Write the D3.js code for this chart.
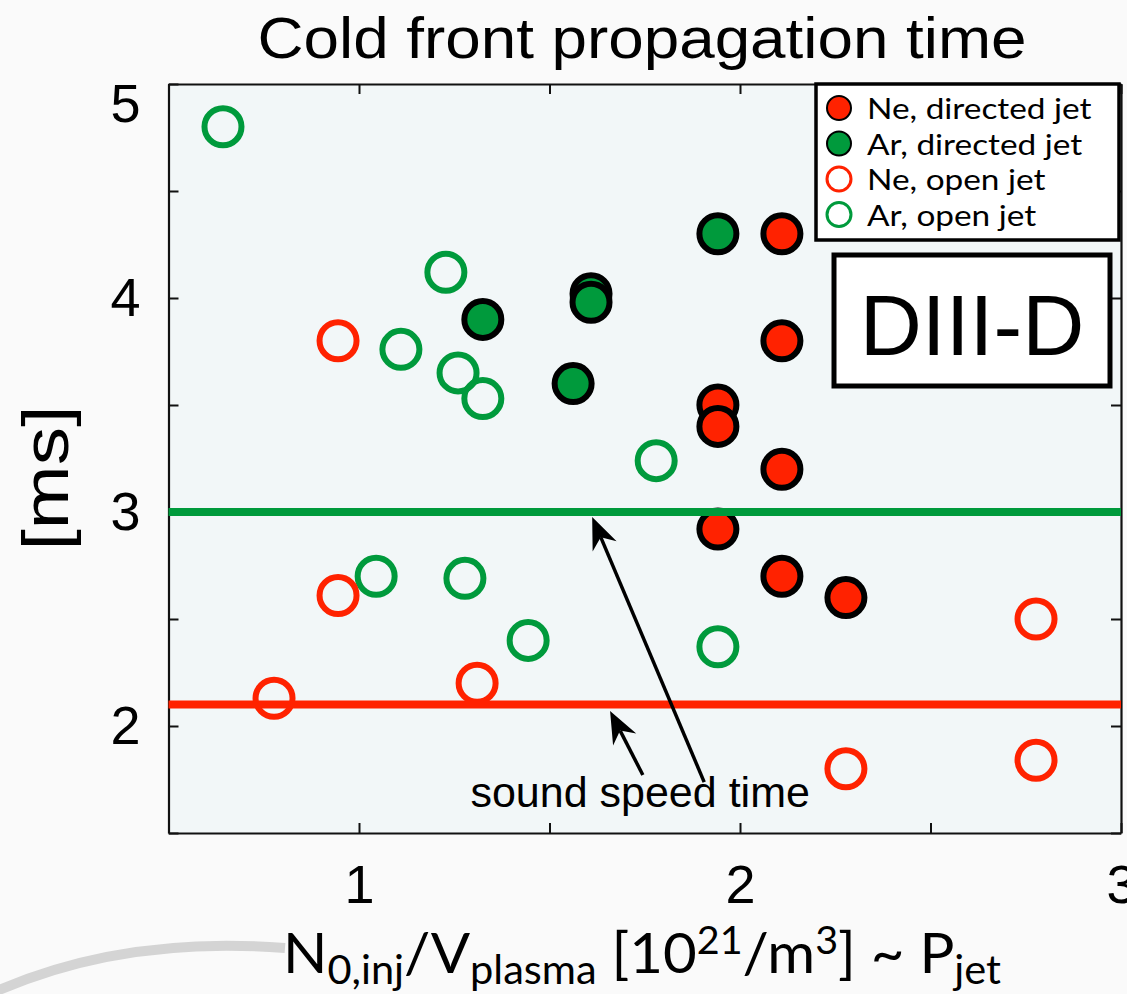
<!DOCTYPE html>
<html>
<head>
<meta charset="utf-8">
<script src="https://cdn.jsdelivr.net/npm/d3@7"></script>
<style>
  body { margin: 0; background: #fafafa; }
  #chart text { fill: #000; }
</style>
</head>
<body>
<div id="chart"></div>
<script>
// data: x = N0,inj/Vplasma, y = time [ms]
var neDirectedX = [2.11, 2.11, 1.942, 1.942, 2.11, 1.942, 2.11, 2.278];
var neDirectedY = [4.30, 3.80, 3.50, 3.40, 3.20, 2.92, 2.70, 2.60];

var arDirectedX = [1.325, 1.609, 1.609, 1.562, 1.942];
var arDirectedY = [3.90, 4.02, 3.98, 3.60, 4.30];

var neOpenX = [0.945, 0.945, 0.777, 1.31, 2.278, 2.777, 2.777];
var neOpenY = [3.80, 2.61, 2.13, 2.20, 1.80, 2.50, 1.84];

var arOpenX = [0.643, 1.228, 1.11, 1.26, 1.325, 1.78, 1.045, 1.278, 1.444, 1.942];
var arOpenY = [4.80, 4.12, 3.76, 3.65, 3.53, 3.24, 2.70, 2.69, 2.40, 2.37];

// sound speed times
var arSoundSpeed = 3.0;
var neSoundSpeed = 2.1;

var xTicks = [0.5, 1, 1.5, 2, 2.5, 3];
var yTicks = [1.5, 2, 2.5, 3, 3.5, 4, 4.5, 5];

var legendLabels = ["Ne, directed jet", "Ar, directed jet", "Ne, open jet", "Ar, open jet"];

// arrows: [tipX, tipY, tailX, tailY] in data units
var arrowGreen = [1.612, 2.977, 1.906, 1.738];
var arrowRed = [1.659, 2.07, 1.745, 1.771];
var noteX = 1.738, noteY = 1.62;

var RED = "#ff2200", GREEN = "#009a3c";

var W = 1127, H = 994;
var box = { left: 168.5, right: 1121, top: 84, bottom: 833 };

var svg = d3.select("#chart").append("svg")
  .attr("width", W).attr("height", H)
  .style("font-family", "'Liberation Sans', Arial, sans-serif");

svg.append("rect").attr("width", W).attr("height", H).attr("fill", "#fafafa");

var x = d3.scaleLinear().domain([0.5, 3]).range([box.left, box.right]);
var y = d3.scaleLinear().domain([1.5, 5]).range([box.bottom, box.top]);

// plot background
svg.append("rect")
  .attr("x", box.left).attr("y", box.top)
  .attr("width", box.right - box.left).attr("height", box.bottom - box.top)
  .attr("fill", "#f2f7f8");

function intLabel(d) { return d % 1 === 0 ? d3.format("d")(d) : ""; }

var xAxis = svg.append("g")
  .attr("transform", "translate(0," + box.bottom + ")")
  .call(d3.axisBottom(x).tickValues(xTicks).tickSize(-10).tickSizeOuter(0)
    .tickPadding(32).tickFormat(intLabel));

var yAxis = svg.append("g")
  .attr("transform", "translate(" + box.left + ",0)")
  .call(d3.axisLeft(y).tickValues(yTicks).tickSize(-10).tickSizeOuter(0)
    .tickPadding(28).tickFormat(intLabel));

svg.append("g")
  .attr("transform", "translate(0," + box.top + ")")
  .call(d3.axisTop(x).tickValues(xTicks).tickSize(-10).tickSizeOuter(0).tickFormat(""));

svg.append("g")
  .attr("transform", "translate(" + box.right + ",0)")
  .call(d3.axisRight(y).tickValues(yTicks).tickSize(-10).tickSizeOuter(0).tickFormat(""));

svg.selectAll(".domain").attr("stroke", "#111").attr("stroke-width", 2.2);
svg.selectAll(".tick line").attr("stroke", "#111").attr("stroke-width", 2);
svg.selectAll(".tick text")
  .attr("font-family", "'Liberation Sans', Arial, sans-serif")
  .attr("font-size", 54)
  .attr("fill", "#000");
// the top label sits a bit lower in the original
yAxis.selectAll(".tick text").filter(function (d) { return d === 5; }).attr("dy", "0.7em");

// points
function pairs(xs, ys) { return xs.map(function (v, i) { return [v, ys[i]]; }); }

svg.append("g").selectAll("circle")
  .data(pairs(arOpenX, arOpenY)).enter().append("circle")
  .attr("cx", function (d) { return x(d[0]); })
  .attr("cy", function (d) { return y(d[1]); })
  .attr("r", 18.5)
  .attr("fill", "none").attr("stroke", GREEN).attr("stroke-width", 6);

svg.append("g").selectAll("circle")
  .data(pairs(neOpenX, neOpenY)).enter().append("circle")
  .attr("cx", function (d) { return x(d[0]); })
  .attr("cy", function (d) { return y(d[1]); })
  .attr("r", 18.5)
  .attr("fill", "none").attr("stroke", RED).attr("stroke-width", 6);

svg.append("g").selectAll("circle")
  .data(pairs(arDirectedX, arDirectedY)).enter().append("circle")
  .attr("cx", function (d) { return x(d[0]); })
  .attr("cy", function (d) { return y(d[1]); })
  .attr("r", 18.5)
  .attr("fill", GREEN).attr("stroke", "#000").attr("stroke-width", 6);

svg.append("g").selectAll("circle")
  .data(pairs(neDirectedX, neDirectedY)).enter().append("circle")
  .attr("cx", function (d) { return x(d[0]); })
  .attr("cy", function (d) { return y(d[1]); })
  .attr("r", 18.5)
  .attr("fill", RED).attr("stroke", "#000").attr("stroke-width", 6);

// sound speed lines
svg.append("line")
  .attr("x1", x(0.5)).attr("x2", x(3))
  .attr("y1", y(arSoundSpeed)).attr("y2", y(arSoundSpeed))
  .attr("stroke", GREEN).attr("stroke-width", 8);
svg.append("line")
  .attr("x1", x(0.5)).attr("x2", x(3))
  .attr("y1", y(neSoundSpeed)).attr("y2", y(neSoundSpeed))
  .attr("stroke", RED).attr("stroke-width", 8);

// arrows with a swept back head
function drawArrow(a) {
  var tx = x(a[0]), ty = y(a[1]), sx = x(a[2]), sy = y(a[3]);
  var ang = Math.atan2(ty - sy, tx - sx);
  var len = 32, half = 13, back = 22;
  var ux = Math.cos(ang), uy = Math.sin(ang), px = -uy, py = ux;
  var bx = tx - ux * len, by = ty - uy * len;
  var ix = tx - ux * back, iy = ty - uy * back;
  svg.append("line")
    .attr("x1", sx).attr("y1", sy).attr("x2", ix).attr("y2", iy)
    .attr("stroke", "#000").attr("stroke-width", 3.5);
  svg.append("path")
    .attr("d", "M" + tx + "," + ty +
      "L" + (bx + px * half) + "," + (by + py * half) +
      "L" + ix + "," + iy +
      "L" + (bx - px * half) + "," + (by - py * half) + "Z")
    .attr("fill", "#000");
}
drawArrow(arrowGreen);
drawArrow(arrowRed);

svg.append("text")
  .attr("x", x(noteX)).attr("y", y(noteY))
  .attr("text-anchor", "middle")
  .attr("font-size", 43)
  .text("sound speed time");

// DIII-D box
svg.append("rect")
  .attr("x", 834).attr("y", 255).attr("width", 276).attr("height", 131)
  .attr("fill", "#fff").attr("stroke", "#000").attr("stroke-width", 5);
svg.append("text")
  .attr("x", 972).attr("y", 355)
  .attr("text-anchor", "middle")
  .attr("font-size", 86)
  .text("DIII-D");

// legend
var legend = svg.append("g").attr("transform", "translate(816,84)");
legend.append("rect")
  .attr("width", 303).attr("height", 156)
  .attr("fill", "#fff").attr("stroke", "#000").attr("stroke-width", 3.5);

var legendStyle = [
  { fill: RED, stroke: "#000", sw: 2 },
  { fill: GREEN, stroke: "#000", sw: 2 },
  { fill: "none", stroke: RED, sw: 3 },
  { fill: "none", stroke: GREEN, sw: 3 }
];
var rows = legend.selectAll(".row").data(legendLabels).enter().append("g")
  .attr("transform", function (d, i) { return "translate(0," + (24 + i * 35.5) + ")"; });
rows.append("circle")
  .attr("cx", 23).attr("r", 12)
  .attr("fill", function (d, i) { return legendStyle[i].fill; })
  .attr("stroke", function (d, i) { return legendStyle[i].stroke; })
  .attr("stroke-width", function (d, i) { return legendStyle[i].sw; });
rows.append("text")
  .attr("x", 51).attr("y", 11)
  .attr("font-family", "Lato, 'Open Sans', sans-serif")
  .attr("font-size", 29)
  .text(function (d) { return d; })
  // the original face is wider, stretch a little
  .attr("textLength", function () { return this.getComputedTextLength() * 1.15; })
  .attr("lengthAdjust", "spacingAndGlyphs");

// title
svg.append("text")
  .attr("x", 642).attr("y", 58)
  .attr("text-anchor", "middle")
  .attr("font-size", 58)
  .attr("textLength", 769).attr("lengthAdjust", "spacingAndGlyphs")
  .text("Cold front propagation time");

// y label
svg.append("text")
  .attr("transform", "translate(68,478) rotate(-90)")
  .attr("text-anchor", "middle")
  .attr("font-size", 64)
  .attr("textLength", 145).attr("lengthAdjust", "spacingAndGlyphs")
  .text("[ms]");

// x label with sub / superscripts
var xl = svg.append("text")
  .attr("x", 642).attr("y", 973)
  .attr("text-anchor", "middle")
  .attr("font-family", "Lato, 'Open Sans', sans-serif")
  .attr("font-size", 56)
  .attr("textLength", 718).attr("lengthAdjust", "spacingAndGlyphs");
xl.append("tspan").text("N");
xl.append("tspan").attr("font-size", 40).attr("dy", 11).text("0,inj");
xl.append("tspan").attr("dy", -11).text("/V");
xl.append("tspan").attr("font-size", 40).attr("dy", 11).text("plasma");
xl.append("tspan").attr("dy", -11).text(" [10");
xl.append("tspan").attr("font-size", 38).attr("dy", -19).text("21");
xl.append("tspan").attr("dy", 19).text("/m");
xl.append("tspan").attr("font-size", 38).attr("dy", -19).text("3");
xl.append("tspan").attr("dy", 19).text("] ~ P");
xl.append("tspan").attr("font-size", 40).attr("dy", 11).text("jet");

// faint logo swoosh in the bottom left corner
svg.append("path")
  .attr("d", "M-10,994 Q120,935 285,948")
  .attr("fill", "none").attr("stroke", "#d4d4d4").attr("stroke-width", 10);
</script>
</body>
</html>
